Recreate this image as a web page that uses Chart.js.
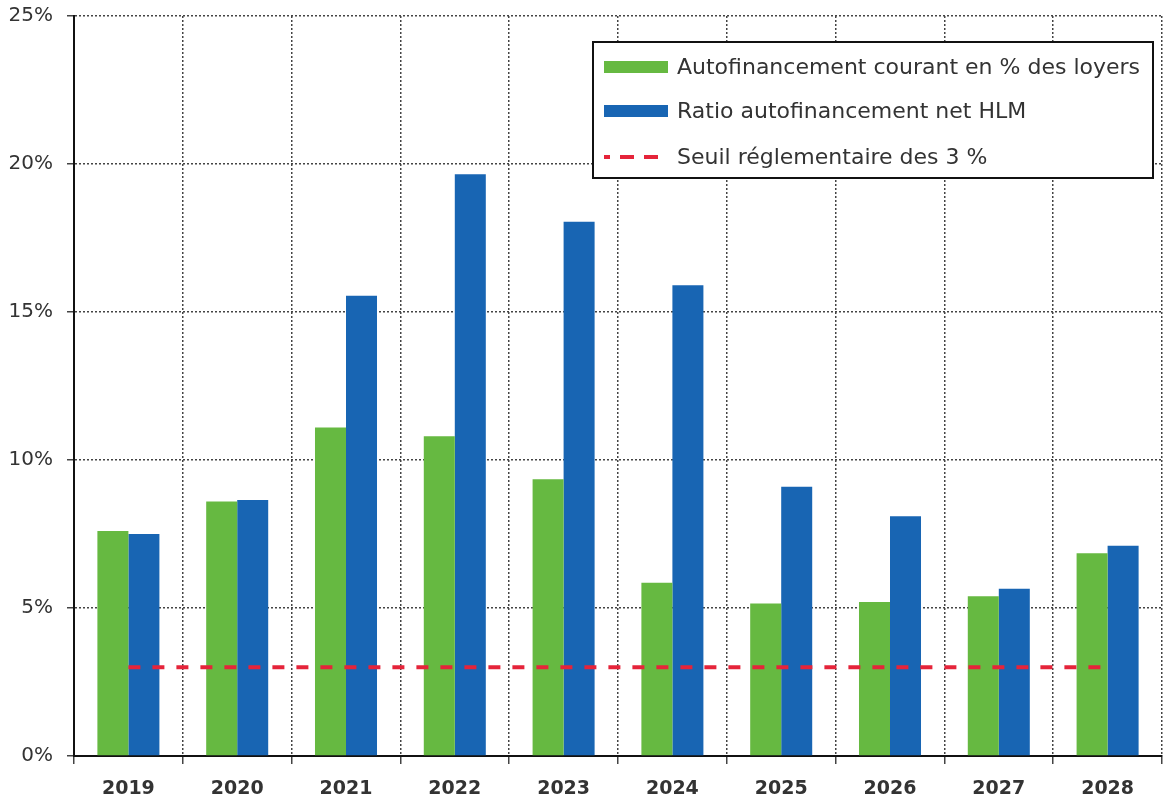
<!DOCTYPE html>
<html>
<head>
<meta charset="utf-8">
<script src="https://cdn.jsdelivr.net/npm/chart.js@4"></script>
<style>
  html, body { margin: 0; padding: 0; background: #fff; }
  #wrap { width: 1163px; height: 803px; }
</style>
</head>
<body>
<div id="wrap"><canvas id="ratioChart" width="1163" height="803"></canvas></div>
<script>
// Data
const years = ['2019', '2020', '2021', '2022', '2023', '2024', '2025', '2026', '2027', '2028'];
const autofinCourant = [7.6, 8.6, 11.1, 10.8, 9.35, 5.85, 5.15, 5.2, 5.4, 6.85];
const ratioNetHlm = [7.5, 8.65, 15.55, 19.65, 18.05, 15.9, 9.1, 8.1, 5.65, 7.1];
const seuil = [3, 3, 3, 3, 3, 3, 3, 3, 3, 3];
const yTicks = [0, 5, 10, 15, 20, 25];

const labels = [
   'Autofinancement courant en % des loyers',
   'Ratio autofinancement net HLM',
   'Seuil réglementaire des 3 %'
];

const GREEN = '#66b941';
const BLUE = '#1865b3';
const RED = '#e5243a';
const FONT = '"DejaVu Sans", sans-serif';

// legend drawn as a framed box in the top right of the plot
const boxLegend = {
   id: 'boxLegend',
   afterDraw(chart) {
       const ctx = chart.ctx;
       const x = 593, y = 42, w = 560, h = 136;
       ctx.save();
       ctx.fillStyle = '#fff';
       ctx.fillRect(x, y, w, h);
       ctx.strokeStyle = '#111';
       ctx.lineWidth = 2;
       ctx.strokeRect(x, y, w, h);

       const rows = [67, 111, 157];
       chart.data.datasets.forEach((ds, i) => {
           const ry = rows[i];
           if (ds.type === 'line') {
               ctx.strokeStyle = ds.borderColor;
               ctx.lineWidth = 4;
               ctx.setLineDash([14, 10]);
               ctx.lineDashOffset = 8;
               ctx.beginPath();
               ctx.moveTo(604, ry);
               ctx.lineTo(668, ry);
               ctx.stroke();
               ctx.setLineDash([]);
           } else {
               ctx.fillStyle = ds.backgroundColor;
               ctx.fillRect(604, ry - 6, 64, 12);
           }
           ctx.fillStyle = '#333';
           ctx.font = '22px ' + FONT;
           ctx.textBaseline = 'middle';
           ctx.textAlign = 'left';
           ctx.fillText(ds.label, 677, ry + 1);
       });
       ctx.restore();
   }
};

const ctx = document.getElementById('ratioChart').getContext('2d');
new Chart(ctx, {
   type: 'bar',
   data: {
       labels: years,
       datasets: [{
           label: labels[0],
           data: autofinCourant,
           backgroundColor: GREEN,
           order: 1
       }, {
           label: labels[1],
           data: ratioNetHlm,
           backgroundColor: BLUE,
           order: 1
       }, {
           type: 'line',
           label: labels[2],
           data: seuil,
           borderColor: RED,
           borderWidth: 4,
           borderDash: [12, 12],
           pointRadius: 0,
           fill: false,
           order: 0
       }]
   },
   options: {
       responsive: false,
       animation: false,
       datasets: {
           bar: { categoryPercentage: 0.57, barPercentage: 1.0 }
       },
       layout: { padding: { top: 0, right: 1, left: 0, bottom: 0 } },
       plugins: {
           legend: { display: false },
           tooltip: { enabled: false }
       },
       scales: {
           x: {
               offset: true,
               grid: {
                   offset: true,
                   color: '#444',
                   lineWidth: 1.5,
                   tickLength: 8,
                   tickBorderDash: []
               },
               border: { color: '#111', width: 2, dash: [2, 2] },
               ticks: {
                   color: '#333',
                   padding: 14,
                   font: { family: FONT, size: 19, weight: 'bold' }
               },
               afterFit(scale) { scale.height = 47; }
           },
           y: {
               min: 0,
               max: 25,
               afterBuildTicks(scale) {
                   scale.ticks = yTicks.map(v => ({ value: v }));
               },
               grid: {
                   color: '#444',
                   lineWidth: 1.5,
                   tickLength: 7,
                   tickBorderDash: []
               },
               border: { color: '#111', width: 2, dash: [2, 2] },
               ticks: {
                   color: '#333',
                   padding: 14,
                   font: { family: FONT, size: 20 },
                   callback: v => v + '%'
               },
               afterFit(scale) {
                   scale.width = 74;
                   scale.paddingTop = 16;
               }
           }
       }
   },
   plugins: [boxLegend]
});
</script>
</body>
</html>
